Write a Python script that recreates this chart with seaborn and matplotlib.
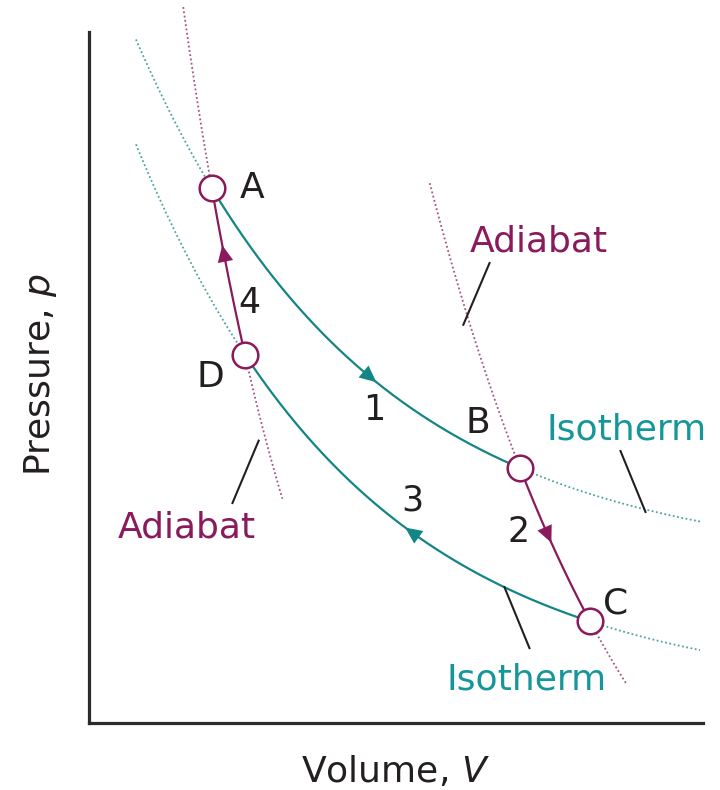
import numpy as np
import matplotlib
matplotlib.use("Agg")
import matplotlib.pyplot as plt
import seaborn as sns

# ---- State points of the Carnot cycle (arbitrary units) ----
state_names = ["A", "B", "C", "D"]
state_V = [2.00, 7.02, 8.16, 2.54]
state_p = [7.74, 3.69, 1.47, 5.33]
state_label_V = [2.65, 6.34, 8.57, 1.97]
state_label_p = [7.60, 4.20, 1.59, 4.86]

# ---- Strokes 1-4: start/end state, curve family, asymptotic pressure, dotted guide range ----
step_labels = ["1", "2", "3", "4"]
step_start = ["A", "B", "D", "A"]
step_end = ["B", "C", "C", "D"]
step_kind = ["isotherm", "adiabat", "isotherm", "adiabat"]
step_p_inf = [2.27, -4.5, 0.39, -3.1]
guide_V_start = [0.765, 5.55, 0.765, 1.535]
guide_V_end = [9.98, 8.75, 9.95, 3.15]
arrow_tail_V = [4.45, 7.40, 5.38, 2.30]
arrow_tip_V = [4.68, 7.53, 5.15, 2.17]
step_label_V = [4.64, 6.99, 5.26, 2.61]
step_label_p = [4.39, 2.62, 3.08, 5.94]

# ---- Callout labels with leader lines ----
callout_text = ["Adiabat", "Adiabat", "Isotherm", "Isotherm"]
callout_kind = ["adiabat", "adiabat", "isotherm", "isotherm"]
callout_V = [7.33, 1.60, 8.75, 7.13]
callout_p = [6.83, 2.68, 4.10, 0.48]
leader_V0 = [6.53, 2.77, 8.65, 6.76]
leader_p0 = [6.67, 4.10, 3.95, 1.98]
leader_V1 = [6.09, 2.33, 9.07, 7.18]
leader_p1 = [5.75, 3.17, 3.04, 1.07]

TEAL = "#138585"
TEAL_TEXT = "#17969a"
PURPLE = "#8a1a5c"
INK = "#231f20"
AXIS = "#2b2b2b"
colors = {"isotherm": TEAL, "adiabat": PURPLE}
text_colors = {"isotherm": TEAL_TEXT, "adiabat": PURPLE}

sns.set_style("white")
plt.rcParams["font.family"] = ["DejaVu Sans"]
plt.rcParams["mathtext.fontset"] = "dejavusans"

fig = plt.figure(figsize=(7.2, 7.9), dpi=100)
ax = fig.add_axes([89 / 720, 67 / 790, 614 / 720, 723 / 790])
ax.set_xlim(0, 10)
ax.set_ylim(0, 723 / 69.1)

state = {n: (v, p) for n, v, p in zip(state_names, state_V, state_p)}


def curve_p(V, V1, p1, V2, p2, p_inf):
    """Smooth decaying p(V) through (V1, p1) and (V2, p2) with asymptote p_inf."""
    r = (p2 - p_inf) / (p1 - p_inf)
    return p_inf + (p1 - p_inf) * r ** ((V - V1) / (V2 - V1))


dot = (0, (1, 1.4))
for i in range(4):
    V1, p1 = state[step_start[i]]
    V2, p2 = state[step_end[i]]
    kind = step_kind[i]
    c = colors[kind]
    f = lambda V: curve_p(V, V1, p1, V2, p2, step_p_inf[i])
    lo, hi = min(V1, V2), max(V1, V2)
    # dotted continuation beyond the cycle
    for a, b in [(guide_V_start[i], lo), (hi, guide_V_end[i])]:
        Vg = np.linspace(a, b, 120)
        sns.lineplot(x=Vg, y=f(Vg), ax=ax, color=c, lw=1.3, linestyle=dot,
                     alpha=0.75, sort=False, estimator=None, zorder=2)
    # solid stroke of the cycle
    Vs = np.linspace(lo, hi, 200)
    sns.lineplot(x=Vs, y=f(Vs), ax=ax, color=c, lw=1.6, sort=False,
                 estimator=None, zorder=3)
    # direction arrow
    ax.annotate("", xy=(arrow_tip_V[i], f(arrow_tip_V[i])),
                xytext=(arrow_tail_V[i], f(arrow_tail_V[i])),
                arrowprops=dict(arrowstyle="-|>,head_length=0.6,head_width=0.28",
                                mutation_scale=20, color=c, lw=0,
                                shrinkA=0, shrinkB=0), zorder=4)
    ax.text(step_label_V[i], step_label_p[i], step_labels[i], ha="center",
            va="baseline", fontsize=25, color=INK)

# state markers
sns.scatterplot(x=state_V, y=state_p, ax=ax, s=340, color="white",
                edgecolor=PURPLE, linewidth=1.8, zorder=6, clip_on=False)
for n, x, y in zip(state_names, state_label_V, state_label_p):
    ax.text(x, y, n, ha="center", va="baseline", fontsize=26, color=INK)

# callouts
for i in range(4):
    ax.plot([leader_V0[i], leader_V1[i]], [leader_p0[i], leader_p1[i]],
            color=INK, lw=1.5, solid_capstyle="butt", zorder=3)
    ax.text(callout_V[i], callout_p[i], callout_text[i], ha="center",
            va="baseline", fontsize=26, color=text_colors[callout_kind[i]],
            clip_on=False)

# axes frame: only left and bottom, no ticks
sns.despine(ax=ax)
for side in ["left", "bottom"]:
    ax.spines[side].set_linewidth(2.3)
    ax.spines[side].set_color(AXIS)
    ax.spines[side].set_capstyle("projecting")
ax.spines["left"].set_bounds(0, 10)
ax.spines["bottom"].set_bounds(0, 10)
ax.set_xticks([])
ax.set_yticks([])
ax.set_xlabel("")
ax.set_ylabel("")

fig.text(395 / 720, 1 - 782 / 790, "Volume, $V$", ha="center", va="baseline",
         fontsize=26, color=INK)
fig.text(50 / 720, 1 - 375 / 790, "Pressure, $p$", ha="center", va="baseline",
         rotation=90, rotation_mode="anchor", fontsize=26, color=INK)

fig.savefig("out.png", dpi=100)
